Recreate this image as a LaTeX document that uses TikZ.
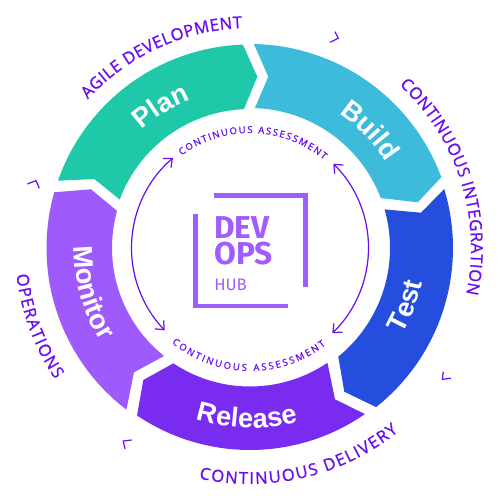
\documentclass[tikz,border=0pt]{standalone}
\usepackage{fontspec}
\setmainfont{Liberation Sans}
\newfontfamily\logofont{Fira Sans}
\newfontfamily\ringfont[FakeBold=1.2]{Open Sans}
\usetikzlibrary{arrows.meta,decorations.text}

\definecolor{planGreen}{HTML}{1FC8A9}
\definecolor{buildBlue}{HTML}{3DBBDB}
\definecolor{testBlue}{HTML}{254EDF}
\definecolor{releaseViolet}{HTML}{7A2BF0}
\definecolor{monitorViolet}{HTML}{9F5AFC}
\definecolor{labelViolet}{HTML}{6A10EE}
\definecolor{logoViolet}{HTML}{A05CFF}

% text on an arc: #1 radius, #2 start angle, #3 end angle, #4 text format, #5 text
\newcommand{\arclabel}[5]{%
  \path[decorate, decoration={text along path, text align=fit to path,
    text={|#4|#5}}] (#2:#1) arc[radius=#1, start angle=#2, end angle=#3];}
\newcommand{\namefmt}{\color{white}\fontsize{15.5}{16}\bfseries}
\newcommand{\outerfmt}{\color{labelViolet}\ringfont\fontsize{9.4}{10}\selectfont}
\newcommand{\innerfmt}{\color{labelViolet}\ringfont\fontsize{5.4}{6}\selectfont}

\begin{document}
\begin{tikzpicture}[x=0.02cm, y=0.02cm]
\tikzset{ >={Straight Barb[length=4pt,width=7pt]},
  barmark/.style={draw=labelViolet, line width=0.7pt},
  logobar/.style={draw=logoViolet, line width=2.7pt},
  cyclearrow/.style={draw=labelViolet, line width=0.7pt, <->},
}

\useasboundingbox (-250,-252) rectangle (250,248);

%%% Segments

% Plan
\fill[planGreen] (160.7:203.5) arc[radius=203.5, start angle=160.7, end angle=92]
  -- (7.3,171.3) -- (92.5:139) arc[radius=139, start angle=92.5, end angle=159.6]
  -- (-155.7,69) -- cycle;

% Build
\fill[buildBlue] (88.9:204) arc[radius=204, start angle=88.9, end angle=20.3]
  -- (167.7,45.7) -- (20.9:140) arc[radius=140, start angle=20.9, end angle=88]
  -- (18.3,171.3) -- cycle;

% Test
\fill[testBlue] (16.9:203) arc[radius=203, start angle=16.9, end angle=-51.6]
  -- (94.3,-143.7) -- (-50.9:140) arc[radius=140, start angle=-50.9, end angle=16]
  -- (171,35.3) -- cycle;

% Release
\fill[releaseViolet] (-55.3:202) arc[radius=202, start angle=-55.3, end angle=-124]
  -- (-106.7,-132) -- (-123.6:138.5) arc[radius=138.5, start angle=-123.6, end angle=-56]
  -- (85,-151.3) -- cycle;

% Monitor
\fill[monitorViolet] (164.1:203.5) arc[radius=203.5, start angle=164.1, end angle=232.6]
  -- (-116,-124.3) -- (231.5:138) arc[radius=138, start angle=231.5, end angle=164.4]
  -- (-159,58.7) -- cycle;

%%% Segment names

\arclabel{160}{132.5}{112.5}{\namefmt}{Plan}
\arclabel{161}{56.5}{33.5}{\namefmt}{Build}
\arclabel{175.5}{-29.5}{-12}{\namefmt}{Test}
\arclabel{176}{179.5}{212}{\namefmt}{Monitor}
\arclabel{180}{252.5}{285.5}{\namefmt}{Release}

%%% Outer labels

\arclabel{220}{137.5}{92}{\outerfmt}{AGILE DEVELOPMENT}
\arclabel{221}{47.5}{-12}{\outerfmt}{CONTINUOUS INTEGRATION}
\arclabel{236}{257.5}{309}{\outerfmt}{CONTINUOUS DELIVERY}
\arclabel{235}{186.5}{214}{\outerfmt}{OPERATIONS}

%%% Inner ring

\arclabel{115}{126.5}{50}{\innerfmt}{CONTINUOUS ASSESSMENT}
\arclabel{123}{230.5}{308}{\innerfmt}{CONTINUOUS ASSESSMENT}

\draw[cyclearrow] (130.5:118.5) arc[radius=118.5, start angle=130.5, end angle=224];
\draw[cyclearrow] (45.3:118.5) arc[radius=118.5, start angle=45.3, end angle=-46];

%%% Corner marks

\draw[barmark] (85,216.3) -- (88.3,209.7) -- (80,205.7);
\draw[barmark] (193.3,-123.7) -- (192.3,-131.3) -- (201,-130.3);
\draw[barmark] (-118.3,-192) -- (-126.7,-193) -- (-125,-201);
\draw[barmark] (-222.7,64) -- (-214,67.3) -- (-210.7,59.7);

%%% Logo

\draw[logobar] (-36,52.3) -- (55.3,52.3) -- (55.3,-39);
\draw[logobar] (-54.3,34) -- (-54.3,-58) -- (37.7,-58);
\node[text=logoViolet, font=\logofont\bfseries\fontsize{18}{18}\selectfont, anchor=base west,
  inner sep=0pt] (logoDev) at (-36,9.7) {DEV};
\node[text=logoViolet, font=\logofont\bfseries\fontsize{18}{18}\selectfont, anchor=base west,
  inner sep=0pt] (logoOps) at (-36,-17) {OPS};
\node[text=logoViolet, font=\logofont\fontsize{9.5}{10}\selectfont, anchor=base west,
  inner sep=0pt] (logoHub) at (-36,-42.7) {HUB};

\end{tikzpicture}
\end{document}
